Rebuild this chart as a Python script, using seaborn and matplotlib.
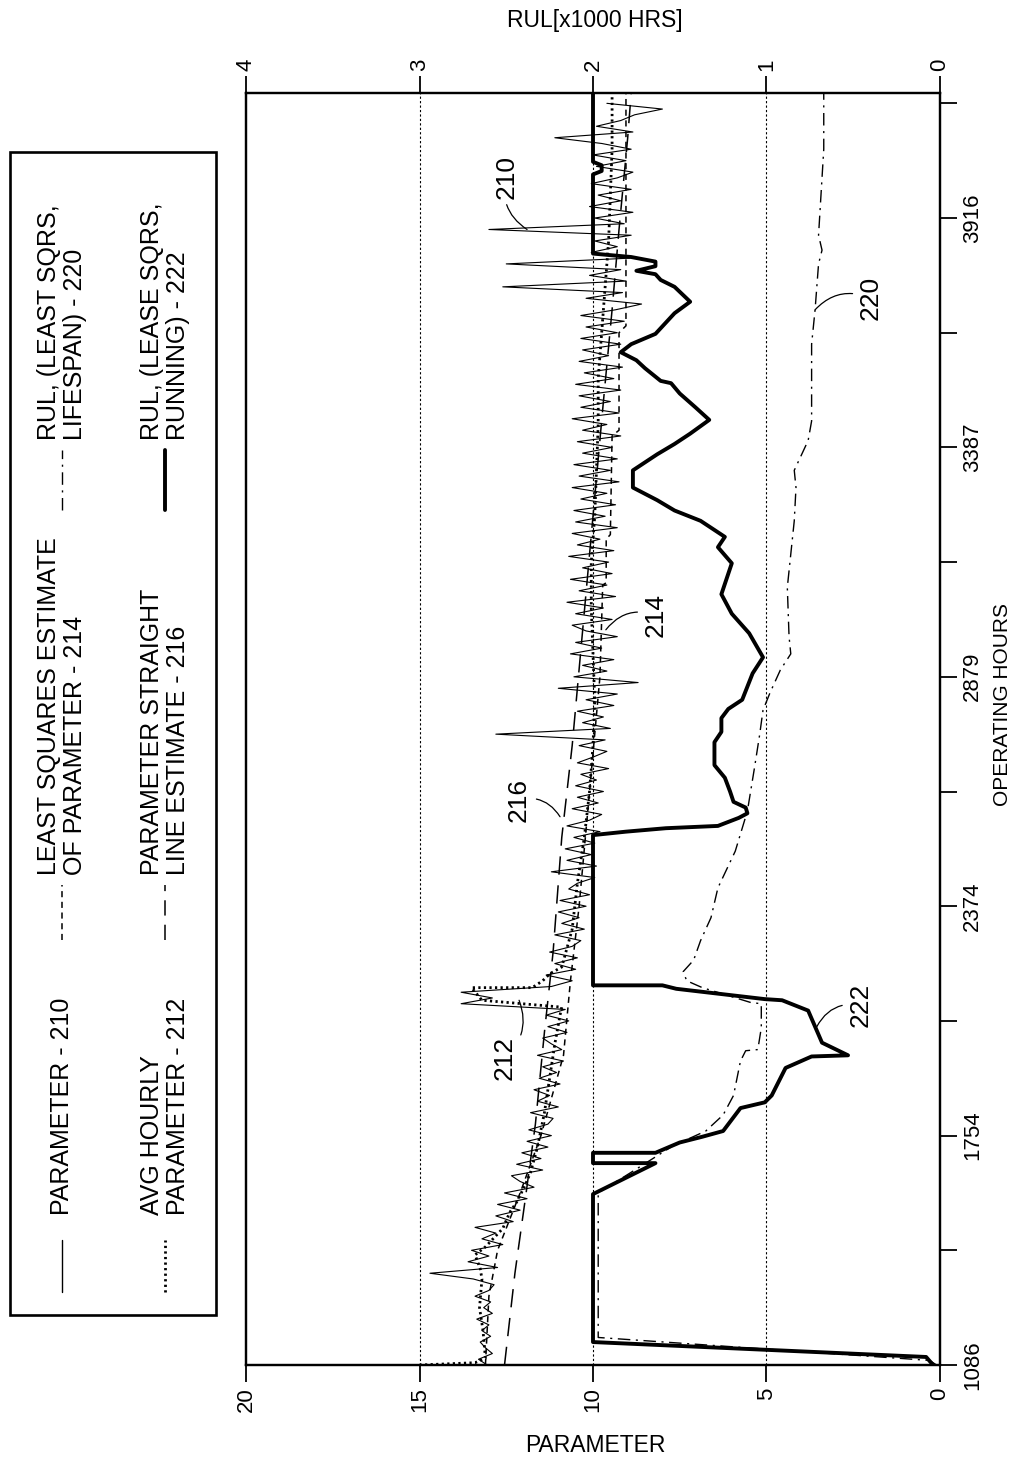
import numpy as np
import matplotlib
matplotlib.use("Agg")
import matplotlib.pyplot as plt
import seaborn as sns
from matplotlib.lines import Line2D
from matplotlib.patches import Rectangle

# ---- data ----------------------------------------------------------------
# vertical position = operating hours axis, counted in tick steps (0 -> 1086 h)
hour_ticks = [0, 2, 4, 6, 8, 10]
hour_labels = ['1086', '1754', '2374', '2879', '3387', '3916']
minor_ticks = [1, 3, 5, 7, 9, 11]
param_ticks = [20, 15, 10, 5, 0]
rul_ticks = [4, 3, 2, 1, 0]

# 210 - raw parameter, one reading every 0.05 tick step
param_210 = [
    13.05, 13.3, 12.9, 13.1, 13.25, 12.95, 13.2, 13.0, 13.35, 12.9,
    13.15, 12.95, 13.4, 13.0, 12.85, 13.45, 14.7, 12.75, 13.6, 13.0,
    13.5, 12.6, 13.2, 12.8, 13.4, 12.3, 12.8, 12.1, 12.75, 11.9,
    12.55, 11.7, 12.1, 12.35, 11.45, 12.2, 11.5, 12.05, 11.3, 11.9,
    11.2, 11.85, 11.3, 11.15, 11.8, 11.0, 11.6, 11.25, 11.7, 10.95,
    11.55, 11.05, 11.45, 10.85, 11.6, 10.9, 11.2, 11.45, 10.75, 11.3,
    10.7, 11.35, 10.8, 13.8, 12.9, 13.8, 11.2, 10.6, 11.35, 10.5,
    11.1, 10.45, 11.25, 10.6, 10.35, 11.1, 10.25, 10.9, 10.4, 11.0,
    10.2, 10.95, 10.1, 10.7, 10.45, 9.95, 11.2, 9.9, 10.75, 10.05,
    10.8, 9.95, 10.55, 9.8, 10.75, 10.1, 9.75, 10.6, 9.85, 10.45,
    9.7, 10.5, 9.9, 10.35, 9.55, 10.45, 10.0, 9.6, 10.4, 9.65,
    12.8, 9.5, 10.3, 9.7, 10.45, 9.4, 10.2, 9.3, 11.0, 8.7,
    10.55, 9.6, 10.3, 9.4, 10.65, 9.75, 10.5, 9.3, 10.2, 10.6,
    9.45, 10.5, 9.7, 10.75, 9.35, 10.4, 9.6, 10.65, 9.45, 10.3,
    9.55, 10.7, 9.4, 10.45, 9.8, 10.6, 9.3, 10.5, 9.65, 10.55,
    9.35, 10.35, 9.6, 10.6, 9.25, 10.4, 9.5, 10.55, 9.3, 10.3,
    9.45, 10.45, 9.2, 10.3, 9.6, 10.6, 9.25, 10.35, 9.5, 10.4,
    9.2, 10.5, 9.4, 10.25, 9.15, 10.4, 9.55, 10.3, 9.2, 10.35,
    9.3, 10.2, 9.1, 10.35, 9.35, 8.6, 10.2, 9.15, 12.6, 9.05,
    10.1, 9.2, 12.5, 8.95, 10.05, 9.3, 9.95, 8.9, 13.0, 9.1,
    9.95, 8.85, 10.1, 9.2, 9.85, 8.9, 10.05, 9.3, 8.85, 9.9,
    9.05, 10.0, 8.9, 9.75, 11.1, 8.85, 9.9, 9.2, 8.8, 8.0,
    9.6,
]
pos_210 = np.arange(len(param_210)) * 0.05

# 212 - average hourly parameter
pos_212 = [0.0, 0.02, 0.06, 0.3, 0.5, 0.75, 0.84, 0.96, 1.03, 1.19, 1.33, 1.42,
           1.57, 1.68, 1.9, 2.2, 2.5, 2.8, 3.05, 3.12, 3.18, 3.29, 3.29, 3.35,
           3.41, 3.47, 3.8, 4.2, 4.6, 5.0, 5.4, 5.8, 6.2, 6.6, 7.0, 7.4, 7.8,
           8.2, 8.6, 9.0, 9.4, 9.8, 10.2, 10.6, 11.09]
param_212 = [15.0, 13.4, 13.1, 13.17, 13.27, 13.2, 13.25, 13.4, 13.1, 12.6, 12.4, 12.2,
             11.95, 11.8, 11.6, 11.4, 11.25, 11.1, 10.95, 10.9, 13.2, 13.5, 11.75, 11.45,
             11.25, 10.9, 10.6, 10.45, 10.25, 10.1, 10.0, 9.95, 10.0, 10.05, 10.05, 9.95, 9.9,
             9.85, 9.85, 9.75, 9.65, 9.55, 9.5, 9.45, 9.45]

# 214 - least squares estimate of parameter
pos_214 = [0.0, 0.6, 1.0, 1.5, 2.0, 2.7, 3.35, 4.0, 5.0, 6.0, 6.8, 6.82, 7.2, 7.24,
           8.1, 8.15, 9.0, 9.06, 11.09]
param_214 = [13.1, 13.0, 12.75, 12.1, 11.5, 10.85, 10.65, 10.4, 10.1, 9.8, 9.72, 9.62,
             9.62, 9.5, 9.45, 9.25, 9.25, 9.05, 9.05]

# 216 - parameter straight line estimate
pos_216 = [0.0, 0.8, 1.45, 2.1, 2.9, 3.6, 4.6, 5.4, 6.4, 7.4, 8.4, 9.2, 9.9, 10.7, 11.09]
param_216 = [12.55, 12.25, 11.95, 11.66, 11.4, 11.15, 10.9, 10.6, 10.3, 10.0, 9.7, 9.45,
             9.25, 9.0, 8.9]

# 220 - RUL, least squares lifespan (x1000 hrs)
pos_220 = [0.0, 0.04, 0.24, 1.5, 1.68, 1.91, 2.04, 2.18, 2.35, 2.65, 2.74, 2.75, 2.94,
           3.15, 3.16, 3.29, 3.35, 3.43, 3.53, 3.70, 3.90, 4.16, 4.48, 4.83, 5.20, 5.49,
           5.71, 5.86, 6.06, 6.20, 6.35, 6.78, 7.07, 7.36, 7.65, 7.80, 8.06, 8.23, 8.5,
           8.9, 9.2, 9.6, 9.72, 9.85, 10.1, 10.6, 11.09]
rul_220 = [0.02, 0.06, 1.97, 1.97, 1.78, 1.54, 1.35, 1.25, 1.19, 1.15, 1.12, 1.05, 1.03,
           1.03, 1.09, 1.37, 1.46, 1.48, 1.42, 1.38, 1.32, 1.28, 1.18, 1.11, 1.07, 1.04,
           1.02, 0.98, 0.92, 0.86, 0.87, 0.88, 0.86, 0.84, 0.83, 0.84, 0.76, 0.74, 0.74,
           0.74, 0.72, 0.70, 0.68, 0.70, 0.69, 0.67, 0.67]

# 222 - RUL, least squares running (x1000 hrs)
pos_222 = [0.0, 0.07, 0.2, 1.49, 1.76, 1.76, 1.85, 1.85, 1.94, 1.99, 2.04, 2.24, 2.29,
           2.35, 2.59, 2.69, 2.70, 2.81, 3.09, 3.18, 3.19, 3.28, 3.31, 3.31, 4.62, 4.65,
           4.68, 4.70, 4.77, 4.81, 4.86, 4.91, 5.00, 5.12, 5.23, 5.43, 5.52, 5.64, 5.72,
           5.80, 6.03, 6.17, 6.38, 6.55, 6.72, 6.99, 7.13, 7.22, 7.36, 7.45, 7.54, 7.65,
           7.80, 7.94, 8.03, 8.12, 8.24, 8.35, 8.47, 8.56, 8.58, 8.69, 8.76, 8.83, 8.90,
           8.99, 9.17, 9.27, 9.40, 9.46, 9.51, 9.54, 9.58, 9.62, 9.66, 9.69, 10.38, 10.41,
           10.46, 10.49, 11.09]
rul_222 = [0.04, 0.08, 2.0, 2.0, 1.64, 2.0, 2.0, 1.64, 1.50, 1.37, 1.25, 1.15, 1.01,
           0.97, 0.89, 0.74, 0.53, 0.68, 0.76, 0.91, 1.01, 1.52, 1.60, 2.0, 2.0, 1.81,
           1.58, 1.28, 1.16, 1.11, 1.12, 1.19, 1.21, 1.24, 1.30, 1.30, 1.26, 1.26, 1.22,
           1.14, 1.08, 1.02, 1.10, 1.20, 1.26, 1.20, 1.28, 1.24, 1.38, 1.53, 1.63, 1.77,
           1.77, 1.63, 1.53, 1.44, 1.33, 1.41, 1.50, 1.55, 1.61, 1.70, 1.75, 1.84, 1.78,
           1.64, 1.53, 1.44, 1.53, 1.61, 1.64, 1.75, 1.64, 1.64, 1.78, 2.0, 2.0, 1.95,
           1.95, 2.0, 2.0]

# ---- figure ----------------------------------------------------------------
sns.set_theme(style="white", rc={'text.color': 'black', 'axes.labelcolor': 'black',
                                 'xtick.color': 'black', 'ytick.color': 'black',
                                 'axes.edgecolor': 'black'})
plt.rcParams['font.family'] = ['Liberation Sans', 'DejaVu Sans']

W, H = 1031, 1466
fig = plt.figure(figsize=(W / 100, H / 100), dpi=100, facecolor='white')
ax = fig.add_axes([246 / W, 1 - 1365 / H, 694 / W, 1272 / H])
ax2 = ax.twiny()

for g in [5, 10, 15]:
    ax.axvline(g, color='black', lw=0.8, ls=(0, (2, 2)), zorder=1)

# parameter side (bottom scale)
sns.lineplot(x=param_216, y=pos_216, orient='y', sort=False, estimator=None, ax=ax,
             color='black', lw=1.1, linestyle=(0, (12, 7)))
sns.lineplot(x=param_214, y=pos_214, orient='y', sort=False, estimator=None, ax=ax,
             color='black', lw=1.1, linestyle=(0, (4, 3)))
sns.lineplot(x=param_210, y=pos_210, orient='y', sort=False, estimator=None, ax=ax,
             color='black', lw=0.8)
sns.lineplot(x=param_212, y=pos_212, orient='y', sort=False, estimator=None, ax=ax,
             color='black', lw=2.0, linestyle=(0, (0.8, 1.2)))

# RUL side (top scale)
sns.lineplot(x=rul_220, y=pos_220, orient='y', sort=False, estimator=None, ax=ax2,
             color='black', lw=1.0, linestyle=(0, (9, 4, 1.5, 4)))
sns.lineplot(x=rul_222, y=pos_222, orient='y', sort=False, estimator=None, ax=ax2,
             color='black', lw=2.8)

ax.set_xlim(20, 0)
ax2.set_xlim(4, 0)
ax.set_ylim(0, 11.09)
ax.set_xlabel('')
ax.set_ylabel('')
ax2.set_xlabel('')
ax2.set_ylabel('')

ax.set_xticks(param_ticks)
ax.set_xticklabels([str(v) for v in param_ticks])
ax2.set_xticks(rul_ticks)
ax2.set_xticklabels([str(v) for v in rul_ticks])
ax.yaxis.tick_right()
ax.set_yticks(hour_ticks)
ax.set_yticklabels(hour_labels)
ax.set_yticks(minor_ticks, minor=True)

ax.tick_params(axis='x', bottom=True, direction='out', length=12, width=1.3,
               labelsize=16, labelrotation=90, pad=4, color='black',
               labelcolor='black')
ax2.tick_params(axis='x', top=True, direction='out', length=12, width=1.3,
                labelsize=16, labelrotation=90, pad=4, color='black',
                labelcolor='black')
ax.tick_params(axis='y', which='both', right=True, left=False, direction='out',
               length=12, width=1.3, labelsize=16, labelrotation=90, pad=4,
               color='black', labelcolor='black')
for lab in ax.get_yticklabels():
    lab.set_va('center')
    lab.set_ha('left')

for a in (ax, ax2):
    for s in a.spines.values():
        s.set_visible(True)
        s.set_color('black')
        s.set_linewidth(1.6)

# axis titles
fig.text(595 / W, 1 - 1445 / H, 'PARAMETER', ha='center', va='center', fontsize=16.5)
fig.text(595 / W, 1 - 20 / H, 'RUL[x1000 HRS]', ha='center', va='center', fontsize=16.5)
fig.text(1003 / W, 1 - 705 / H, 'OPERATING HOURS', ha='center', va='center',
         rotation=90, fontsize=15)

# reference numerals with leaders
lead = dict(arrowstyle='-', color='black', lw=0.9, shrinkA=2, shrinkB=0)
ax.annotate('210', xy=(11.9, 9.9), xytext=(12.5, 10.36), rotation=90, ha='center',
            va='center', fontsize=19,
            arrowprops=dict(lead, connectionstyle='arc3,rad=0.35'))
ax.annotate('214', xy=(9.63, 6.41), xytext=(8.2, 6.54), rotation=90, ha='center',
            va='center', fontsize=19,
            arrowprops=dict(lead, connectionstyle='arc3,rad=0.35'))
ax.annotate('216', xy=(10.95, 4.78), xytext=(12.15, 4.93), rotation=90, ha='center',
            va='center', fontsize=19,
            arrowprops=dict(lead, connectionstyle='arc3,rad=-0.35'))
ax.annotate('212', xy=(12.13, 3.18), xytext=(12.55, 2.68), rotation=90, ha='center',
            va='center', fontsize=19,
            arrowprops=dict(lead, connectionstyle='arc3,rad=0.35'))
ax2.annotate('222', xy=(0.71, 2.95), xytext=(0.46, 3.14), rotation=90, ha='center',
             va='center', fontsize=19,
             arrowprops=dict(lead, connectionstyle='arc3,rad=0.35'))
ax2.annotate('220', xy=(0.72, 9.2), xytext=(0.40, 9.3), rotation=90, ha='center',
             va='center', fontsize=19,
             arrowprops=dict(lead, connectionstyle='arc3,rad=0.35'))

# legend box (drawn by hand, rotated like the rest of the sheet)
fig.add_artist(Rectangle((10 / W, 1 - 1315 / H), 206 / W, 1163 / H,
                         transform=fig.transFigure, fill=False, lw=1.9,
                         ec='black'))

def legend_entry(xc, y0, y1, ytxt, text, **style):
    fig.add_artist(Line2D([xc / W, xc / W], [1 - y0 / H, 1 - y1 / H],
                          transform=fig.transFigure, color='black', **style))
    fig.text(xc / W, 1 - ytxt / H, text, rotation=90, ha='center', va='bottom',
             multialignment='left', fontsize=18, linespacing=1.15, color='black')

legend_entry(62, 1292, 1240, 1215, 'PARAMETER - 210', lw=1.0)
legend_entry(165, 1292, 1240, 1215, 'AVG HOURLY\nPARAMETER - 212', lw=2.0,
             linestyle=(0, (0.8, 1.2)))
legend_entry(62, 940, 885, 875, 'LEAST SQUARES ESTIMATE\nOF PARAMETER - 214', lw=1.1,
             linestyle=(0, (4, 3)))
legend_entry(165, 940, 885, 875, 'PARAMETER STRAIGHT\nLINE ESTIMATE - 216', lw=1.1,
             linestyle=(0, (10, 6)))
legend_entry(62, 510, 450, 440, 'RUL, (LEAST SQRS,\nLIFESPAN) - 220', lw=1.0,
             linestyle=(0, (9, 4, 1.5, 4)))
legend_entry(165, 510, 450, 440, 'RUL, (LEASE SQRS,\nRUNNING) - 222', lw=2.8)

fig.savefig('out.png', dpi=100, facecolor='white')
